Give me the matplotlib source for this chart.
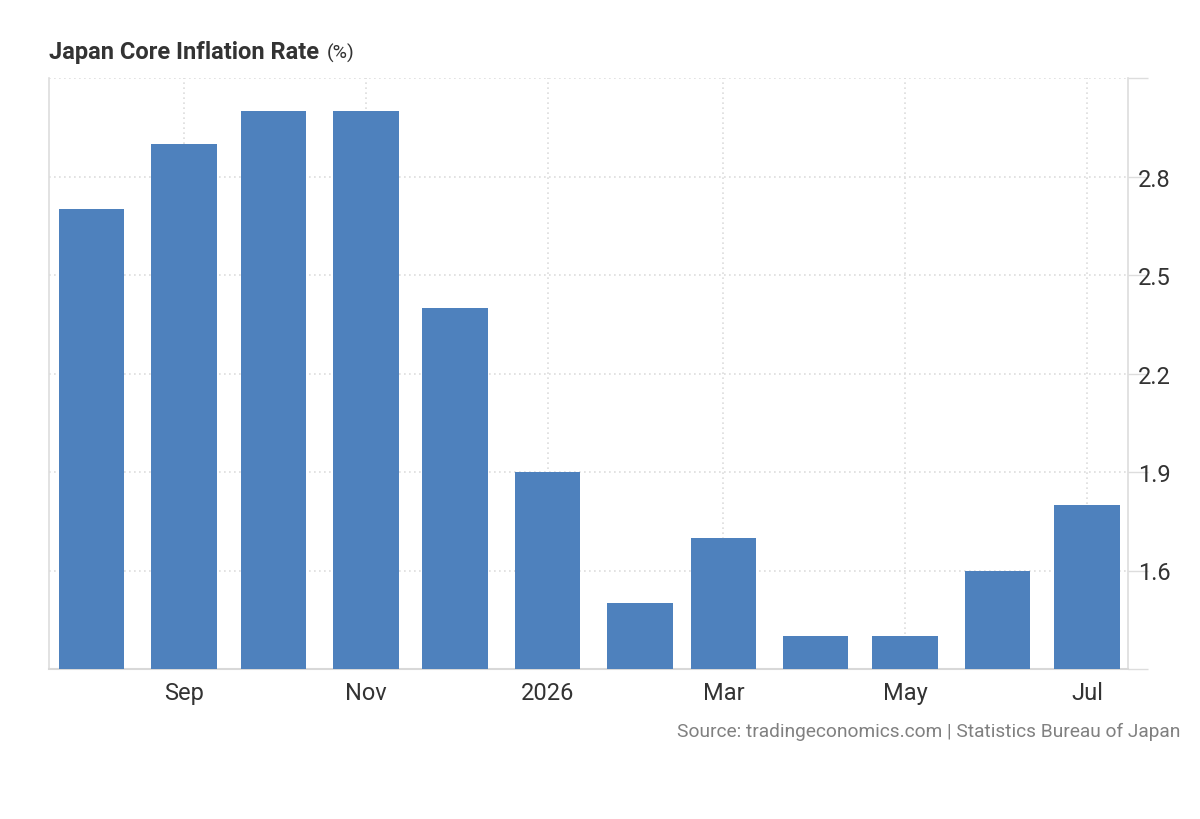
import datetime as dt

import matplotlib
matplotlib.use("Agg")
import matplotlib.pyplot as plt
import matplotlib.dates as mdates

# Japan core CPI, YoY %, monthly
months = ["2025-08", "2025-09", "2025-10", "2025-11", "2025-12", "2026-01",
          "2026-02", "2026-03", "2026-04", "2026-05", "2026-06", "2026-07"]
values = [2.7, 2.9, 3.0, 3.0, 2.4, 1.9, 1.5, 1.7, 1.4, 1.4, 1.6, 1.8]
yticks = [1.3, 1.6, 1.9, 2.2, 2.5, 2.8, 3.1]
ytick_labels = ["", "1.6", "1.9", "2.2", "2.5", "2.8", ""]
xtick_months = ["2025-09", "2025-11", "2026-01", "2026-03", "2026-05", "2026-07"]
xtick_labels = ["Sep", "Nov", "2026", "Mar", "May", "Jul"]

plt.rcParams["font.family"] = ["Roboto", "DejaVu Sans"]

BAR = "#4e81bd"
TXT = "#333333"
GRID = "#dddddd"


def to_date(s):
    y, m = s.split("-")
    return dt.date(int(y), int(m), 1)


dates = [to_date(m) for m in months]
xt = [to_date(m) for m in xtick_months]

fig = plt.figure(figsize=(12, 8.2), dpi=100)
ax = fig.add_axes([49 / 1200, 150 / 820, (1128 - 49) / 1200, (670 - 79) / 820])

ax.bar(dates, values, width=22, color=BAR, zorder=3)

x0 = mdates.date2num(xt[0]) - 45.3
x1 = mdates.date2num(xt[-1]) + 13.8
ax.set_xlim(x0, x1)
ax.set_ylim(1.3, 3.1)

ax.set_xticks(xt)
ax.set_xticklabels(xtick_labels)
ax.set_yticks(yticks)
ax.set_yticklabels(ytick_labels)

ax.yaxis.tick_right()
ax.tick_params(axis="y", length=14.4, width=1, color=GRID, pad=-7,
               labelsize=17, labelcolor=TXT)
ax.tick_params(axis="x", length=0, pad=9, labelsize=17, labelcolor=TXT)

ax.grid(True, linestyle=(0, (1, 2)), color=GRID, linewidth=1.2, zorder=0)

for side in ["left", "right"]:
    ax.spines[side].set_color(GRID)
    ax.spines[side].set_linewidth(1.2)
ax.spines["top"].set_visible(False)
ax.spines["bottom"].set_color("#d8d8d8")
ax.spines["bottom"].set_linewidth(1.5)

fig.text(49 / 1200, 1 - 52 / 820, "Japan Core Inflation Rate", fontsize=17,
         fontweight="bold", color=TXT, va="center", ha="left")
fig.text(327 / 1200, 1 - 53 / 820, "(%)", fontsize=14, color=TXT,
         va="center", ha="left")
fig.text(1180 / 1200, 1 - 732 / 820,
         "Source: tradingeconomics.com | Statistics Bureau of Japan",
         fontsize=13.8, color="#808080", va="center", ha="right")

fig.savefig("out.png", dpi=100)
